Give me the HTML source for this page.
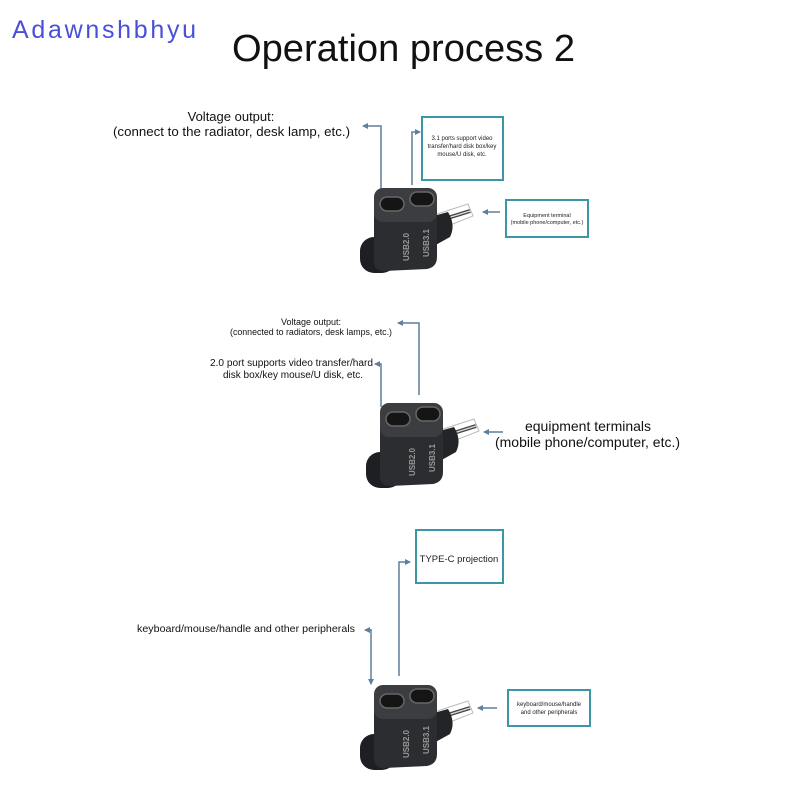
<!DOCTYPE html>
<html><head><meta charset="utf-8"><style>
html,body{margin:0;padding:0;background:#fff;}
svg{display:block;}
text{font-family:"Liberation Sans",sans-serif;}
</style></head><body>
<svg width="800" height="800" viewBox="0 0 800 800" xmlns="http://www.w3.org/2000/svg">
<defs>
<marker id="ah" markerWidth="6" markerHeight="6" refX="5" refY="3" orient="auto" markerUnits="userSpaceOnUse">
<path d="M0,0 L6,3 L0,6 z" fill="#5f7f9c"/></marker>
<g id="ad">
  <polygon points="74,30 108,19 113,31 80,44" fill="#fff" stroke="#bbb" stroke-width="1"/>
  <line x1="78" y1="36" x2="110" y2="26" stroke="#444" stroke-width="4"/>
  <line x1="78" y1="36" x2="110" y2="26" stroke="#ddd" stroke-width="1.2"/>
  <path d="M70,32 L88,27 Q96,40 90,52 L72,62 Z" fill="#232427"/>
  <rect x="0" y="52" width="36" height="36" rx="14" fill="#1e1f22"/>
  <path d="M14,18 L77,18 L77,72 Q77,82 67,84 L24,86 Q14,86 14,76 Z" fill="#2c2d30"/>
  <rect x="14" y="3" width="63" height="34" rx="9" fill="#3b3d41"/>
  <rect x="20" y="12" width="24" height="14" rx="7" fill="#151515" stroke="#666" stroke-width="1.5"/>
  <rect x="50" y="7" width="24" height="14" rx="7" fill="#151515" stroke="#666" stroke-width="1.5"/>
  <text font-size="8" fill="#999" font-weight="bold" text-anchor="middle" transform="translate(49,62) rotate(-90)">USB2.0</text>
  <text font-size="8" fill="#999" font-weight="bold" text-anchor="middle" transform="translate(69,58) rotate(-90)">USB3.1</text>
</g>
</defs>

<text x="12" y="38" font-size="25" fill="#4a4fd8" letter-spacing="2.7">Adawnshbhyu</text>
<text x="232" y="61" font-size="38" fill="#111" textLength="343" lengthAdjust="spacingAndGlyphs">Operation process 2</text>

<!-- Section 1 -->
<text x="231" y="121" font-size="13" text-anchor="middle" fill="#111">Voltage output:</text>
<text x="113" y="136" font-size="13" fill="#111" textLength="237" lengthAdjust="spacingAndGlyphs">(connect to the radiator, desk lamp, etc.)</text>
<polyline points="381,195 381,126 363,126" fill="none" stroke="#5f7f9c" stroke-width="1.5" marker-end="url(#ah)"/>
<polyline points="412,185 412,132 420,132" fill="none" stroke="#5f7f9c" stroke-width="1.5" marker-end="url(#ah)"/>
<rect x="422" y="117" width="81" height="63" fill="#fff" stroke="#3b97a5" stroke-width="2"/>
<text x="462" y="140" font-size="6" text-anchor="middle" fill="#222">3.1 ports support video</text>
<text x="462" y="148" font-size="6" text-anchor="middle" fill="#222">transfer/hard disk box/key</text>
<text x="462" y="156" font-size="6" text-anchor="middle" fill="#222">mouse/U disk, etc.</text>
<polyline points="500,212 483,212" fill="none" stroke="#5f7f9c" stroke-width="1.5" marker-end="url(#ah)"/>
<rect x="506" y="200" width="82" height="37" fill="#fff" stroke="#3b97a5" stroke-width="2"/>
<text x="547" y="217" font-size="5.5" text-anchor="middle" fill="#222">Equipment terminal</text>
<text x="547" y="224" font-size="5.5" text-anchor="middle" fill="#222">(mobile phone/computer, etc.)</text>
<use href="#ad" transform="translate(360,185)"/>

<!-- Section 2 -->
<text x="311" y="325" font-size="9" text-anchor="middle" fill="#111">Voltage output:</text>
<text x="230" y="335" font-size="9" fill="#111" textLength="162" lengthAdjust="spacingAndGlyphs">(connected to radiators, desk lamps, etc.)</text>
<polyline points="419,395 419,323 398,323" fill="none" stroke="#5f7f9c" stroke-width="1.5" marker-end="url(#ah)"/>
<text x="210" y="366" font-size="10" fill="#111" textLength="163" lengthAdjust="spacingAndGlyphs">2.0 port supports video transfer/hard</text>
<text x="293" y="378" font-size="10" text-anchor="middle" fill="#111">disk box/key mouse/U disk, etc.</text>
<polyline points="381,407 381,364 375,364" fill="none" stroke="#5f7f9c" stroke-width="1.5" marker-end="url(#ah)"/>
<polyline points="503,432 484,432" fill="none" stroke="#5f7f9c" stroke-width="1.5" marker-end="url(#ah)"/>
<text x="588" y="431" font-size="14" text-anchor="middle" fill="#111">equipment terminals</text>
<text x="495" y="447" font-size="14" fill="#111" textLength="185" lengthAdjust="spacingAndGlyphs">(mobile phone/computer, etc.)</text>
<use href="#ad" transform="translate(366,400)"/>

<!-- Section 3 -->
<rect x="416" y="530" width="87" height="53" fill="#fff" stroke="#3b97a5" stroke-width="2"/>
<text x="459" y="562" font-size="9.5" text-anchor="middle" fill="#222">TYPE-C projection</text>
<polyline points="399,676 399,562 410,562" fill="none" stroke="#5f7f9c" stroke-width="1.5" marker-end="url(#ah)"/>
<text x="137" y="632" font-size="10.5" fill="#111" textLength="218" lengthAdjust="spacingAndGlyphs">keyboard/mouse/handle and other peripherals</text>
<polyline points="371,629 371,684" fill="none" stroke="#5f7f9c" stroke-width="1.5" marker-end="url(#ah)"/>
<polyline points="371,630 365,630" fill="none" stroke="#5f7f9c" stroke-width="1.5" marker-end="url(#ah)"/>
<polyline points="497,708 478,708" fill="none" stroke="#5f7f9c" stroke-width="1.5" marker-end="url(#ah)"/>
<rect x="508" y="690" width="82" height="36" fill="#fff" stroke="#3b97a5" stroke-width="2"/>
<text x="549" y="706" font-size="6" text-anchor="middle" fill="#222">keyboard/mouse/handle</text>
<text x="549" y="714" font-size="6" text-anchor="middle" fill="#222">and other peripherals</text>
<use href="#ad" transform="translate(360,682)"/>
</svg>
</body></html>
